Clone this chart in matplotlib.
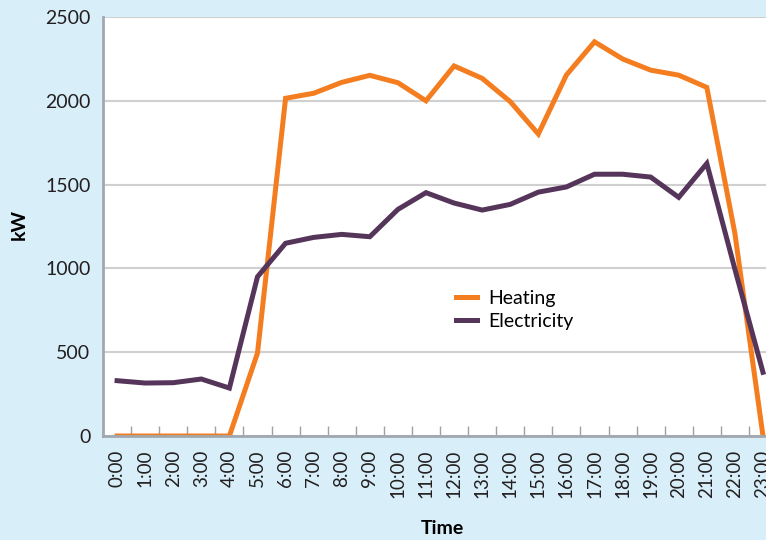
import matplotlib.pyplot as plt
import numpy as np

plt.rcParams['font.family'] = ['Lato', 'DejaVu Sans']

hours = ["%d:00" % h for h in range(24)]
heating = [0, 0, 0, 0, 0, 495, 2015, 2045, 2110, 2152, 2108, 2000,
           2208, 2134, 1995, 1802, 2154, 2352, 2250, 2183, 2153, 2080, 1208, 0]
electricity = [330, 316, 318, 340, 286, 950, 1150, 1185, 1203, 1189, 1352, 1452,
               1390, 1348, 1382, 1455, 1486, 1562, 1562, 1545, 1424, 1626, 995, 380]

fig = plt.figure(figsize=(7.66, 5.4), dpi=100)
fig.patch.set_facecolor('#d8eff9')
ax = fig.add_axes([0.1345, 0.1926, 0.8799, 0.7759])
ax.set_facecolor('white')

x = np.arange(len(hours))
ax.plot(x, heating, color='#f47d20', lw=3.6, label='Heating', solid_joinstyle='miter')
ax.plot(x, electricity, color='#55365a', lw=3.6, label='Electricity', solid_joinstyle='miter')

ax.set_xlim(-0.5, 23.5)
ax.set_ylim(0, 2500)
ax.set_yticks([0, 500, 1000, 1500, 2000, 2500])
ax.yaxis.grid(True, color='#d0d0d0', lw=1.5)
ax.set_axisbelow(True)

ax.set_xticks(x)
ax.set_xticklabels(hours, rotation=90, fontsize=13.5, color='#231f20')
ax.set_xticks(x[:-1] + 0.5, minor=True)
ax.tick_params(axis='x', which='major', length=0, pad=10)
ax.tick_params(axis='x', which='minor', direction='in', length=7, color='#a0a0a0', width=1)
ax.tick_params(axis='y', length=0, labelsize=14, labelcolor='#231f20', pad=9)

for s in ['top', 'right']:
    ax.spines[s].set_visible(False)
for s in ['left', 'bottom']:
    ax.spines[s].set_color('#a0a8b0')
    ax.spines[s].set_linewidth(2)

ax.set_ylabel('kW', fontsize=14, fontweight='bold')
ax.yaxis.set_label_coords(-0.111, 0.504)
ax.set_xlabel('Time', fontsize=14, fontweight='bold')
ax.xaxis.set_label_coords(0.503, -0.2)

ax.legend(loc='upper left', bbox_to_anchor=(0.497, 0.39), frameon=False,
          fontsize=14, handlelength=1.1, handletextpad=0.6, labelspacing=0.3)

fig.savefig('out.png', dpi=100, facecolor=fig.get_facecolor())
